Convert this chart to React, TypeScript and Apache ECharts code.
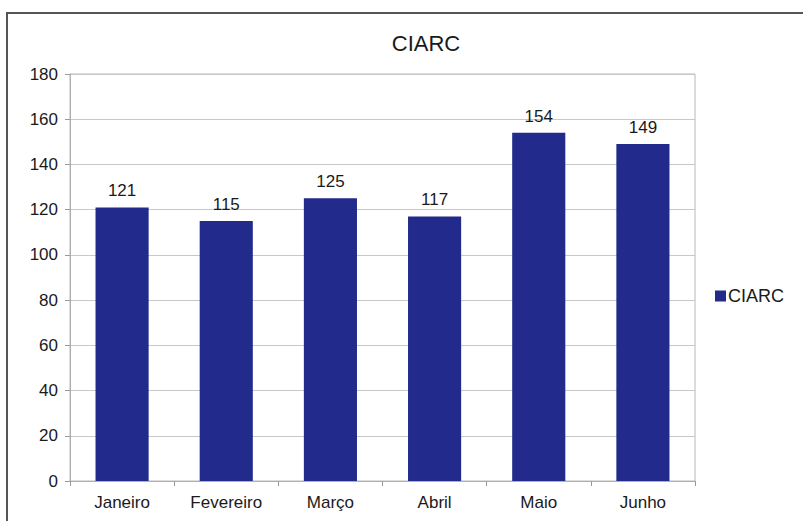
import React, { useEffect, useRef } from "react";
import * as echarts from "echarts";

const categories = ["Janeiro", "Fevereiro", "Março", "Abril", "Maio", "Junho"];
const values = [121, 115, 125, 117, 154, 149];
const seriesName = "CIARC";
const titleText = "CIARC";

export default function App() {
  const ref = useRef<HTMLDivElement>(null);
  useEffect(() => {
    const chart = echarts.init(ref.current!, null, { renderer: "svg" });
    const font = "'Liberation Sans', Arial, sans-serif";
    chart.setOption({
      animation: false,
      backgroundColor: "#ffffff",
      textStyle: { fontFamily: font },
      title: {
        text: titleText,
        left: 421,
        textAlign: "center",
        top: 27,
        textStyle: { fontFamily: font, fontSize: 22, fontWeight: "normal", color: "#1a1a1a" },
      },
      legend: {
        data: [seriesName],
        orient: "vertical",
        left: 710,
        top: 282,
        icon: "rect",
        itemWidth: 11,
        itemHeight: 11,
        itemGap: 4,
        textStyle: { fontFamily: font, fontSize: 18, color: "#1a1a1a", padding: [0, 0, 0, -3] },
      },
      grid: { left: 70, right: 108, top: 74, bottom: 40, show: true, borderColor: "#b8b8b8", borderWidth: 1 },
      xAxis: {
        type: "category",
        data: categories,
        axisLine: { lineStyle: { color: "#b0b0b0" } },
        axisTick: { show: true, length: 5, lineStyle: { color: "#999" } },
        axisLabel: { fontFamily: font, fontSize: 17, color: "#1a1a1a", margin: 13 },
      },
      yAxis: {
        type: "value",
        min: 0,
        max: 180,
        interval: 20,
        axisLine: { show: true, lineStyle: { color: "#b0b0b0" } },
        axisTick: { show: true, length: 5, lineStyle: { color: "#999" } },
        axisLabel: { fontFamily: font, fontSize: 17, color: "#1a1a1a", margin: 12 },
        splitLine: { lineStyle: { color: "#c8c8c8" } },
      },
      series: [
        {
          name: seriesName,
          type: "bar",
          data: values,
          barWidth: "51%",
          itemStyle: { color: "#222a8c" },
          label: {
            show: true,
            position: "top",
            distance: 8,
            fontFamily: font,
            fontSize: 17,
            color: "#1a1a1a",
          },
        },
      ],
      graphic: [
        {
          type: "rect",
          shape: { x: 7, y: 13, width: 820, height: 520 },
          style: { fill: "none", stroke: "#555", lineWidth: 2 },
          silent: true,
        },
      ],
    });
    return () => chart.dispose();
  }, []);
  return <div ref={ref} style={{ width: 803, height: 521, position: "absolute", left: 0, top: 0 }} />;
}
